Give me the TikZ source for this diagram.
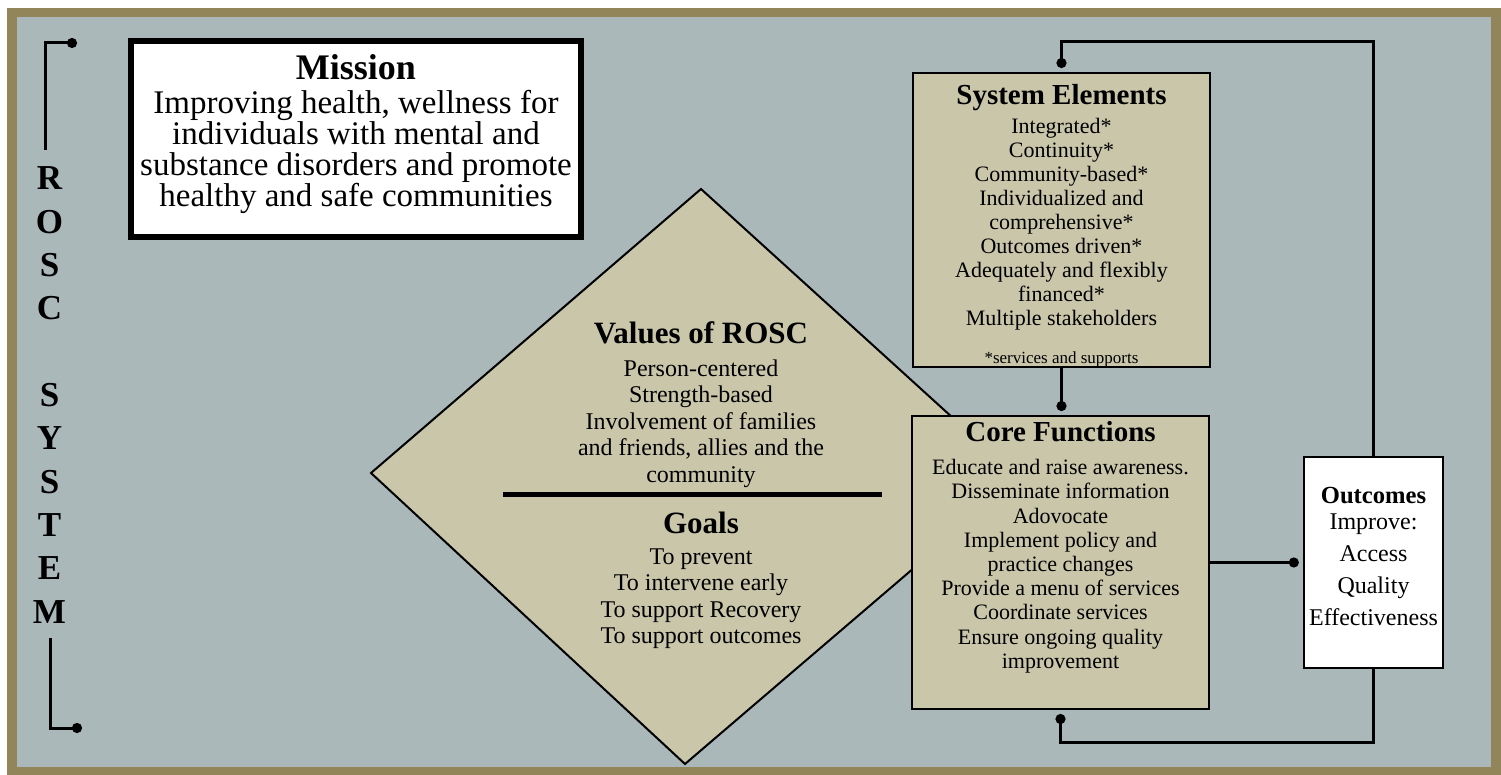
\documentclass[tikz,border=0pt]{standalone}
\usepackage{fontspec}
\setmainfont{Liberation Serif}
\usetikzlibrary{arrows.meta}

\definecolor{frameolive}{HTML}{928559}
\definecolor{panelgrey}{HTML}{AAB8BA}
\definecolor{khaki}{HTML}{C9C6AA}

\begin{document}
\begin{tikzpicture}[x=0.5pt,y=-0.5pt,
  panel/.style={draw,line width=1pt,fill=khaki,inner sep=0pt},
  head/.style={font=\bfseries\fontsize{14.5}{16}\selectfont,inner sep=0pt,anchor=base},
  body/.style={font=\fontsize{11}{12}\selectfont,align=center,inner sep=0pt,anchor=north},
  link/.style={line width=1.5pt,-{Circle[length=5pt]},shorten >=2pt},
  letter/.style={font=\bfseries\fontsize{17.5}{18}\selectfont,inner sep=0pt,anchor=base}]

% background and frame
\fill[white] (0,0) rectangle (1501,775);
\fill[frameolive] (7,8) rectangle (1501,775);
\fill[panelgrey] (17,17) rectangle (1491,767);

% ROSC SYSTEM down the left side
\coordinate (brtopA) at (45,150);
\coordinate (brtopB) at (77,43);
\coordinate (brbotA) at (50,638);
\coordinate (brbotB) at (82,728);
\draw[link,shorten >=0pt] (brtopA) |- (brtopB);
\draw[link,shorten >=0pt] (brbotA) |- (brbotB);
\foreach \ch/\k in {R/0,O/1,S/2,C/3,S/5,Y/6,S/7,T/8,E/9,M/10}
  \node[letter] (rosc\k) at (49.5,190+43.3*\k) {\ch};

% mission
\node[draw,line width=3pt,fill=white,minimum width=225pt,minimum height=98pt] (mission) at (356,139) {};
\node[head,font=\bfseries\fontsize{18}{20}\selectfont] (missiontitle) at (356,80) {Mission};
\node[body,font=\fontsize{16.5}{15.5}\selectfont] (missiontext) at (356,90)
  {Improving health, wellness for\\individuals with mental and\\substance disorders and promote\\healthy and safe communities};

% values and goals
\filldraw[fill=khaki,line width=1pt] (701,189) -- (1019,478) -- (685,764) -- (371,473) -- cycle;
\node[head,font=\bfseries\fontsize{15.5}{17}\selectfont] (valuestitle) at (701,344) {Values of ROSC};
\node[body,font=\fontsize{12}{13.25}\selectfont] (values) at (701,359)
  {Person-centered\\Strength-based\\Involvement of families\\and friends, allies and the\\community};
\coordinate (divl) at (503,495);
\coordinate (divr) at (882,495);
\draw[line width=2.5pt] (divl) -- (divr);
\node[head,font=\bfseries\fontsize{15.5}{17}\selectfont] (goalstitle) at (701,533) {Goals};
\node[body,font=\fontsize{12}{13.25}\selectfont] (goals) at (701,548)
  {To prevent\\To intervene early\\To support Recovery\\To support outcomes};

% system elements
\node[panel,minimum width=148.5pt,minimum height=147pt] (se) at (1061.5,220) {};
\node[head] (setitle) at (1061.5,105) {System Elements};
\node[body] (setext) at (1061.5,118)
  {Integrated*\\Continuity*\\Community-based*\\Individualized and\\comprehensive*\\Outcomes driven*\\Adequately and flexibly\\financed*\\Multiple stakeholders};
\node[head,font=\fontsize{8.5}{10}\selectfont] (senote) at (1061.5,364) {*services and supports};

% core functions
\node[panel,minimum width=148.5pt,minimum height=146.5pt] (cf) at (1060.5,562.5) {};
\node[head] (cftitle) at (1060.5,442) {Core Functions};
\node[body,font=\fontsize{11}{12.1}\selectfont] (cftext) at (1060.5,459)
  {Educate and raise awareness.\\Disseminate information\\Adovocate\\Implement policy and\\practice changes\\Provide a menu of services\\Coordinate services\\Ensure ongoing quality\\improvement};

% outcomes
\node[draw,line width=1.2pt,fill=white,inner sep=0pt,minimum width=69.5pt,minimum height=105.5pt] (out) at (1373.5,562.5) {};
\node[head,font=\bfseries\fontsize{12.3}{14}\selectfont] (outtitle) at (1373.5,503) {Outcomes};
\node[body,font=\fontsize{12}{16.1}\selectfont] (outtext) at (1373.5,513)
  {Improve:\\Access\\Quality\\Effectiveness};

% connectors
\draw[link] (out.north) -- ++(0,-414) -| (se.north);
\draw[link] (se.south) -- (se.south |- cf.north);
\draw[link] (cf.east |- out.west) -- (out.west);
\draw[link] (out.south) -- ++(0,73) -| (cf.south);
\end{tikzpicture}
\end{document}
